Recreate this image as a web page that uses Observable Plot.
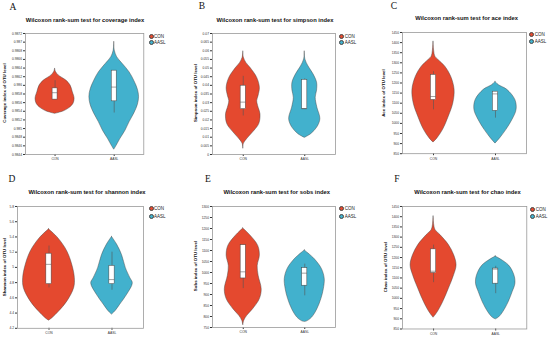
<!DOCTYPE html>
<html><head><meta charset="utf-8">
<script src="https://cdn.jsdelivr.net/npm/d3@7"></script>
<script src="https://cdn.jsdelivr.net/npm/@observablehq/plot@0.6"></script>
<style>
body{margin:0;background:#fff;}
#c{position:relative;width:550px;height:339px;overflow:hidden;background:#fff;font-family:"Liberation Sans",Arial,sans-serif;}
.t{position:absolute;white-space:nowrap;transform:translate(-50%,-50%);line-height:1;}
.letter{font-family:"Liberation Serif","DejaVu Serif",serif;font-size:9.5px;color:#111;}
.title{font-weight:bold;font-size:5.8px;color:#111;}
.ylab{font-weight:bold;font-size:4.4px;color:#111;transform:translate(-50%,-50%) rotate(-90deg);}
.leg{position:absolute;font-size:4.5px;color:#222;white-space:nowrap;line-height:1;}
.dot{display:inline-block;width:5px;height:5px;border-radius:50%;border:0.5px solid #444;vertical-align:middle;margin-right:0.5px;box-sizing:border-box;}
.plot{position:absolute;overflow:visible;}
</style></head><body><div id="c"></div><script>
const groups = ["CON", "AASL"];
const colors = ["#E4492F", "#42B1CD"];

// Violin profiles: [index value, half-width as a share of the category spacing]
const coverageCON = [[0.98638,0],[0.98631,0.015],[0.98623,0.06],[0.98611,0.19],[0.98600,0.26],[0.98584,0.30],[0.98569,0.33],[0.98557,0.31],[0.98548,0.25],[0.98540,0.15],[0.98534,0]];
const coverageAASL = [[0.98700,0],[0.98680,0.01],[0.98665,0.05],[0.98650,0.14],[0.98630,0.26],[0.98610,0.34],[0.98590,0.40],[0.98573,0.42],[0.98555,0.40],[0.98535,0.34],[0.98515,0.26],[0.98495,0.19],[0.98475,0.10],[0.98460,0.04],[0.98451,0]];
const simpsonCON = [[0.0595,0],[0.056,0.01],[0.053,0.05],[0.050,0.12],[0.0443,0.227],[0.0386,0.27],[0.034,0.25],[0.0309,0.227],[0.027,0.25],[0.0233,0.28],[0.0176,0.26],[0.0128,0.16],[0.009,0.065],[0.0062,0.01],[0.0033,0]];
const simpsonAASL = [[0.0595,0],[0.055,0.01],[0.051,0.06],[0.0465,0.14],[0.0415,0.20],[0.037,0.20],[0.0328,0.178],[0.0271,0.205],[0.0205,0.254],[0.0157,0.205],[0.0119,0.108],[0.0096,0]];
const aceCON = [[1404,0],[1360,0.01],[1330,0.03],[1314,0.08],[1281,0.19],[1231,0.285],[1166,0.34],[1100,0.32],[1034,0.247],[968,0.154],[927,0.066],[905,0]];
const aceAASL = [[1205,0],[1190,0.05],[1166,0.19],[1116,0.32],[1067,0.34],[1018,0.275],[968,0.176],[927,0.077],[900,0]];
const shannonCON = [[5.50,0],[5.38,0.15],[5.21,0.29],[5.03,0.37],[4.86,0.41],[4.73,0.40],[4.55,0.29],[4.42,0.16],[4.33,0.05],[4.30,0]];
const shannonAASL = [[5.40,0],[5.30,0.08],[5.16,0.16],[4.99,0.22],[4.86,0.29],[4.79,0.33],[4.64,0.24],[4.51,0.13],[4.42,0.05],[4.38,0]];
const sobsCON = [[1200,0],[1167,0.12],[1121,0.243],[1076,0.27],[1030,0.235],[985,0.25],[924,0.30],[879,0.27],[833,0.16],[803,0.065],[780,0.015],[760,0]];
const sobsAASL = [[1100,0],[1061,0.16],[1015,0.28],[970,0.325],[924,0.31],[879,0.27],[833,0.205],[795,0.12],[778,0.04],[775,0]];
const chaoCON = [[1401,0],[1360,0.01],[1335,0.03],[1310,0.11],[1261,0.246],[1212,0.33],[1162,0.37],[1113,0.33],[1047,0.246],[981,0.153],[932,0.066],[905,0]];
const chaoAASL = [[1205,0],[1162,0.21],[1113,0.30],[1072,0.317],[1031,0.273],[981,0.208],[932,0.12],[907,0.055],[897,0]];

// Boxes: [lower whisker, Q1, median, Q3, upper whisker]
const coverageBoxCON = [0.98567,0.98567,0.98583,0.98593,0.98611];
const coverageBoxAASL = [0.98536,0.98563,0.98596,0.98634,0.98634];
const simpsonBoxCON = [0.0223,0.0262,0.0303,0.0398,0.0452];
const simpsonBoxAASL = [0.0260,0.0262,0.0265,0.0432,0.0438];
const aceBoxCON = [1067,1116,1133,1240,1256];
const aceBoxAASL = [1026,1062,1146,1157,1157];
const shannonBoxCON = [4.73,4.78,5.04,5.18,5.28];
const shannonBoxAASL = [4.70,4.78,4.84,5.02,5.20];
const sobsBoxCON = [927,973,1003,1124,1124];
const sobsBoxAASL = [894,940,997,1020,1038];
const chaoBoxCON = [1077,1124,1133,1240,1261];
const chaoBoxAASL = [1023,1072,1143,1146,1157];

// Tick labels
const coverageTicks = [0.9872,0.987,0.9868,0.9866,0.9864,0.9862,0.986,0.9858,0.9856,0.9854,0.9852,0.985,0.9848,0.9846,0.9844];
const simpsonTicks = [0.07,0.065,0.06,0.055,0.05,0.045,0.04,0.035,0.03,0.025,0.02,0.015,0.01,0.005,0];
const aceTicks = [1450,1400,1350,1300,1250,1200,1150,1100,1050,1000,950,900,850];
const shannonTicks = [5.8,5.6,5.4,5.2,5,4.8,4.6,4.4,4.2];
const sobsTicks = [1300,1250,1200,1150,1100,1050,1000,950,900,850,800,750];
const chaoTicks = [1450,1400,1350,1300,1250,1200,1150,1100,1050,1000,950,900,850];

const panels = [
  {letter:"A", name:"coverage", ylabel:"Coverage index of OTU level", violins:[coverageCON,coverageAASL], boxes:[coverageBoxCON,coverageBoxAASL], ticks:coverageTicks,
   l:25, r:143.3, t:32.5, b:153.5, lx:13, ly:8, tx:85, ty:20.5, yl:5, gx:151, gy:[36.7,42.7]},
  {letter:"B", name:"simpson", ylabel:"Simpson index of OTU level", violins:[simpsonCON,simpsonAASL], boxes:[simpsonBoxCON,simpsonBoxAASL], ticks:simpsonTicks,
   l:211.7, r:334.7, t:32.5, b:153.5, lx:202, ly:7, tx:275, ty:20.5, yl:196, gx:341.7, gy:[36.7,42.3]},
  {letter:"C", name:"ace", ylabel:"Ace index of OTU level", violins:[aceCON,aceAASL], boxes:[aceBoxCON,aceBoxAASL], ticks:aceTicks,
   l:401.7, r:525.7, t:32.3, b:153.5, lx:394, ly:6.7, tx:466.7, ty:19, yl:384, gx:531.7, gy:[34,41]},
  {letter:"D", name:"shannon", ylabel:"Shannon index of OTU level", violins:[shannonCON,shannonAASL], boxes:[shannonBoxCON,shannonBoxAASL], ticks:shannonTicks,
   l:16.7, r:142.7, t:206.2, b:328, lx:12, ly:180, tx:87, ty:192.7, yl:5, gx:151, gy:[208,216]},
  {letter:"E", name:"sobs", ylabel:"Sobs index of OTU level", violins:[sobsCON,sobsAASL], boxes:[sobsBoxCON,sobsBoxAASL], ticks:sobsTicks,
   l:211.7, r:334.7, t:205.7, b:326.7, lx:208, ly:180, tx:276.7, ty:193, yl:195.7, gx:341.7, gy:[208.3,216.7]},
  {letter:"F", name:"chao", ylabel:"Chao index of OTU level", violins:[chaoCON,chaoAASL], boxes:[chaoBoxCON,chaoBoxAASL], ticks:chaoTicks,
   l:401.7, r:526, t:205.5, b:328, lx:397, ly:180, tx:467.5, ty:193.3, yl:385.7, gx:532.7, gy:[209,216.7]}
];

const root = document.getElementById("c");
function addText(cls, txt, x, y) {
  const d = document.createElement("div");
  d.className = "t " + cls; d.textContent = txt;
  d.style.left = x + "px"; d.style.top = y + "px";
  root.appendChild(d);
}

for (const p of panels) {
  const ml = 30, mr = 4, mt = 4, mb = 12;
  const w = p.r - p.l, h = p.b - p.t;
  const rows = [];
  p.violins.forEach((prof, i) => prof.forEach(([v, hw]) => rows.push({g: groups[i], c: i + 1, v, hw})));
  const boxes = p.boxes.map((b, i) => ({g: groups[i], c: i + 1, lo: b[0], q1: b[1], med: b[2], q3: b[3], hi: b[4]}));
  const bw = 0.042;
  const svg = Plot.plot({
    width: w + ml + mr, height: h + mt + mb,
    marginLeft: ml, marginRight: mr, marginTop: mt, marginBottom: mb,
    style: {fontSize: "3.3px", fontFamily: "'Liberation Sans', Arial, sans-serif", color: "#333", background: "transparent", overflow: "visible"},
    x: {domain: [0.5, 2.5], ticks: [1, 2], tickFormat: d => groups[d - 1], tickSize: 2, tickPadding: 1.5, label: null},
    y: {domain: [p.ticks[p.ticks.length - 1], p.ticks[0]], ticks: p.ticks, tickFormat: d => String(+d.toFixed(6)), tickSize: 2, tickPadding: 1.5, label: null},
    color: {domain: groups, range: colors},
    marks: [
      Plot.areaX(rows, {y: "v", x1: d => d.c - d.hw, x2: d => d.c + d.hw, z: "g", fill: "g", stroke: "#444", strokeWidth: 0.45, curve: "catmull-rom"}),
      Plot.ruleX(boxes, {x: "c", y1: "lo", y2: "hi", stroke: "#555", strokeWidth: 0.6}),
      Plot.rect(boxes, {x1: d => d.c - bw, x2: d => d.c + bw, y1: "q1", y2: "q3", fill: "white", stroke: "#444", strokeWidth: 0.5}),
      Plot.ruleY(boxes, {y: "med", x1: d => d.c - bw, x2: d => d.c + bw, stroke: "#444", strokeWidth: 0.5}),
      Plot.frame({stroke: "#999", strokeWidth: 0.8})
    ]
  });
  svg.classList.add("plot");
  svg.style.left = (p.l - ml) + "px";
  svg.style.top = (p.t - mt) + "px";
  root.appendChild(svg);

  addText("letter", p.letter, p.lx, p.ly);
  addText("title", "Wilcoxon rank-sum test for " + p.name + " index", p.tx, p.ty);
  addText("ylab", p.ylabel, p.yl, (p.t + p.b) / 2);
  groups.forEach((g, i) => {
    const d = document.createElement("div");
    d.className = "leg";
    d.style.left = (p.gx - 2.5) + "px";
    d.style.top = (p.gy[i] - 2.5) + "px";
    d.innerHTML = `<span class="dot" style="background:${colors[i]}"></span>${g}`;
    root.appendChild(d);
  });
}
</script></body></html>
